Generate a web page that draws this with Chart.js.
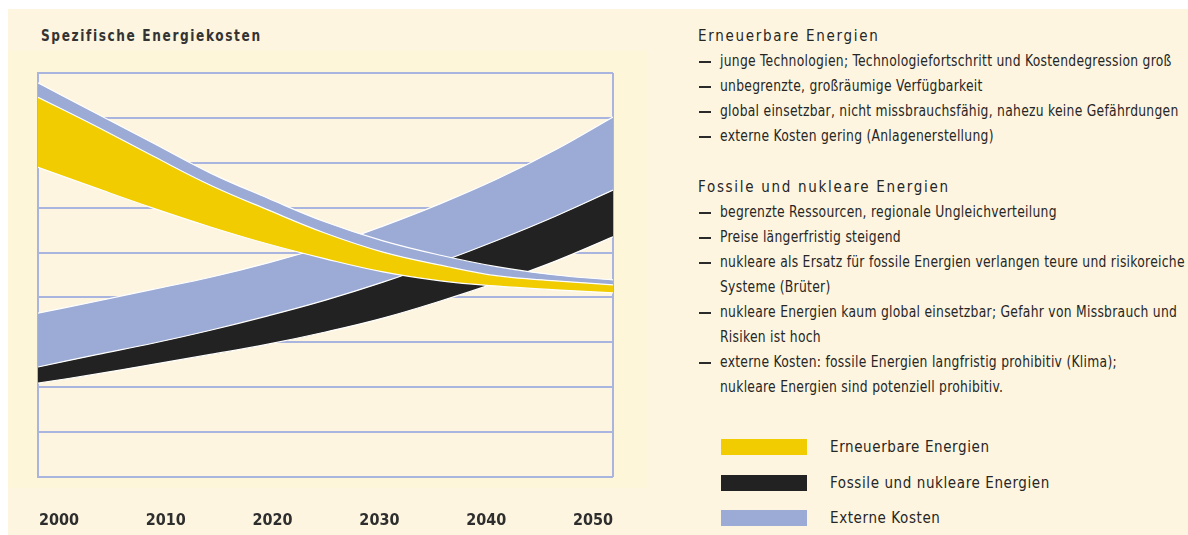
<!DOCTYPE html>
<html>
<head>
<meta charset="utf-8">
<script src="https://cdn.jsdelivr.net/npm/chart.js@4.4.1/dist/chart.umd.min.js"></script>
<style>
  html, body { margin:0; padding:0; background:#ffffff; }
  body { width:1188px; height:535px; position:relative; overflow:hidden;
         font-family:"DejaVu Sans Condensed","Liberation Sans",sans-serif; color:#262626; }
  #bg { position:absolute; left:8px; top:9px; width:1180px; height:526px; background:#fdf5df; }
  #panel { position:absolute; left:8px; top:51px; width:640px; height:437px; background:#fdf6d8; }
  #wrap { position:absolute; left:0; top:0; width:660px; height:535px; }
  #title { position:absolute; left:41px; top:27px; font-size:15px; font-weight:bold; letter-spacing:1.8px; color:#333;
           white-space:nowrap; transform:scaleX(0.9); transform-origin:0 0; }
  .txt { position:absolute; left:698px; font-size:15px; white-space:nowrap; line-height:20px; }
  .head { letter-spacing:1.7px; }
  .dash { position:absolute; left:1px; top:10px; width:12px; height:2px; background:#2a2a2a; }
  .body span { display:inline-block; margin-left:22px; letter-spacing:0.3px; transform:scaleX(0.915); transform-origin:0 0; }
  #legend { position:absolute; left:721px; top:439px; }
  .lg { position:absolute; left:0; white-space:nowrap; }
  .sw { position:absolute; left:0; width:86px; height:16px; }
  .lt { position:absolute; left:109px; top:-2px; font-size:15px; letter-spacing:0.6px; line-height:20px; }
</style>
</head>
<body>
<div id="bg"></div>
<div id="panel"></div>
<div id="title">Spezifische Energiekosten</div>
<div id="wrap"><canvas id="c"></canvas></div>
<div id="notes"></div>
<div id="legend"></div>
<script>
// ---------- data ----------
const years = [2000, 2005, 2010, 2015, 2020, 2025, 2030, 2035, 2040, 2045, 2050];
const tickYears = [2000, 2010, 2020, 2030, 2040, 2050];
// Erneuerbare Energien: lower edge, upper edge, upper edge incl. externe Kosten
const renewLow  = [6.90, 6.44, 5.99, 5.57, 5.19, 4.86, 4.57, 4.37, 4.25, 4.17, 4.10];
const renewHigh = [8.46, 7.82, 7.15, 6.50, 5.95, 5.43, 5.01, 4.72, 4.48, 4.37, 4.28];
const renewExt  = [8.78, 8.11, 7.44, 6.77, 6.21, 5.68, 5.26, 4.94, 4.68, 4.50, 4.39];
// Fossile und nukleare Energien
const fossilLow  = [2.09, 2.29, 2.51, 2.73, 2.96, 3.23, 3.54, 3.92, 4.34, 4.81, 5.35];
const fossilHigh = [2.45, 2.72, 2.98, 3.27, 3.59, 3.94, 4.34, 4.79, 5.28, 5.81, 6.39];
const fossilExt  = [3.65, 3.91, 4.18, 4.45, 4.77, 5.14, 5.59, 6.09, 6.65, 7.29, 8.02];

const legendLabels = ["Erneuerbare Energien", "Fossile und nukleare Energien", "Externe Kosten"];

const notes1Head = "Erneuerbare Energien";
const notes1 = [
  ["junge Technologien; Technologiefortschritt und Kostendegression groß"],
  ["unbegrenzte, großräumige Verfügbarkeit"],
  ["global einsetzbar, nicht missbrauchsfähig, nahezu keine Gefährdungen"],
  ["externe Kosten gering (Anlagenerstellung)"]
];
const notes2Head = "Fossile und nukleare Energien";
const notes2 = [
  ["begrenzte Ressourcen, regionale Ungleichverteilung"],
  ["Preise längerfristig steigend"],
  ["nukleare als Ersatz für fossile Energien verlangen teure und risikoreiche", "Systeme (Brüter)"],
  ["nukleare Energien kaum global einsetzbar; Gefahr von Missbrauch und", "Risiken ist hoch"],
  ["externe Kosten: fossile Energien langfristig prohibitiv (Klima);", "nukleare Energien sind potenziell prohibitiv."]
];

// ---------- styles ----------
const YELLOW = '#f0cc00', BLACK = '#222222', LAV = '#9babd6', GRID = '#a9b5df', EDGE = '#ffffff';

// ---------- text block ----------
(function(){
  const notes = document.getElementById('notes');
  const LH = 25.1; let y = 26;
  function add(html, cls){ const d=document.createElement('div'); d.className='txt '+cls; d.style.top=y+'px'; d.innerHTML=html; notes.appendChild(d); y+=LH; }
  add(notes1Head,'head');
  const item = it => it.forEach((line,i)=> add((i===0?'<div class="dash"></div>':'')+'<span>'+line+'</span>','body'));
  notes1.forEach(item);
  y += LH;
  add(notes2Head,'head');
  notes2.forEach(item);
  const lg = document.getElementById('legend');
  const cols = [YELLOW, BLACK, LAV];
  legendLabels.forEach((l,i)=>{
    const d=document.createElement('div'); d.className='lg'; d.style.top=(i*35.5)+'px';
    d.innerHTML='<div class="sw" style="background:'+cols[i]+'"></div><div class="lt">'+l+'</div>';
    lg.appendChild(d);
  });
})();

// ---------- chart ----------
const pts = arr => years.map((x,i)=>({x:x, y:arr[i]}));
const base = { pointRadius:0, borderColor:EDGE, borderWidth:1.2, tension:0.4 };

const bgPlugin = {
  id:'areaBg',
  beforeDraw(chart){
    const a = chart.chartArea, ctx = chart.ctx;
    ctx.save(); ctx.fillStyle = '#fdf5df'; ctx.fillRect(a.left, a.top, a.right-a.left, a.bottom-a.top); ctx.restore();
  }
};

// label axis: tick labels of the original sit slightly inside the plot frame
const LBL_FIRST = 59, LBL_STEP = 106.8, PLOT_L = 38, PLOT_R = 613;
const pxPerYear = LBL_STEP / 10;
const x2min = tickYears[0] - (LBL_FIRST - PLOT_L) / pxPerYear;
const x2max = tickYears[0] + (PLOT_R - LBL_FIRST) / pxPerYear;

new Chart(document.getElementById('c'), {
  type:'line',
  data:{
    datasets:[
      Object.assign({label:'renewLow',  data:pts(renewLow),  fill:false}, base),
      Object.assign({label:legendLabels[0], data:pts(renewHigh), fill:'-1', backgroundColor:YELLOW}, base),
      Object.assign({label:legendLabels[2], data:pts(renewExt),  fill:'-1', backgroundColor:LAV}, base),
      Object.assign({label:'fossilLow', data:pts(fossilLow), fill:false}, base),
      Object.assign({label:legendLabels[1], data:pts(fossilHigh), fill:'-1', backgroundColor:BLACK}, base),
      Object.assign({label:legendLabels[2], data:pts(fossilExt),  fill:'-1', backgroundColor:LAV}, base)
    ]
  },
  options:{
    responsive:true, maintainAspectRatio:false, animation:false,
    layout:{ padding:{ left:PLOT_L, right:660-PLOT_R, top:73, bottom:0 } },
    plugins:{ legend:{display:false}, tooltip:{enabled:false}, title:{display:false} },
    scales:{
      x:{ type:'linear', min:years[0], max:years[years.length-1], position:'bottom',
          ticks:{ display:false, stepSize:10 },
          grid:{ drawTicks:false, lineWidth:2, color: c => (c.tick && c.tick.value === years[years.length-1]) ? GRID : 'rgba(0,0,0,0)' },
          border:{ display:false },
          afterFit: s => { s.height = 0; } },
      x2:{ type:'linear', min:x2min, max:x2max, position:'bottom',
           afterBuildTicks: s => { s.ticks = tickYears.map(v=>({value:v})); },
           ticks:{ autoSkip:false, maxRotation:0, padding:34, color:'#2e2e2e',
                   font:{ family:'"DejaVu Sans Condensed",sans-serif', size:16, weight:'bold' },
                   callback: v => String(v) },
           grid:{ display:false, drawTicks:false }, border:{ display:false },
           afterFit: s => { s.height = 535 - 477; } },
      y:{ type:'linear', min:0, max:9,
          ticks:{ display:false, stepSize:1 },
          grid:{ color:GRID, lineWidth:2, drawTicks:false },
          border:{ display:true, color:GRID, width:2 },
          afterFit: s => { s.width = 0; } }
    }
  },
  plugins:[bgPlugin]
});
</script>
</body>
</html>
